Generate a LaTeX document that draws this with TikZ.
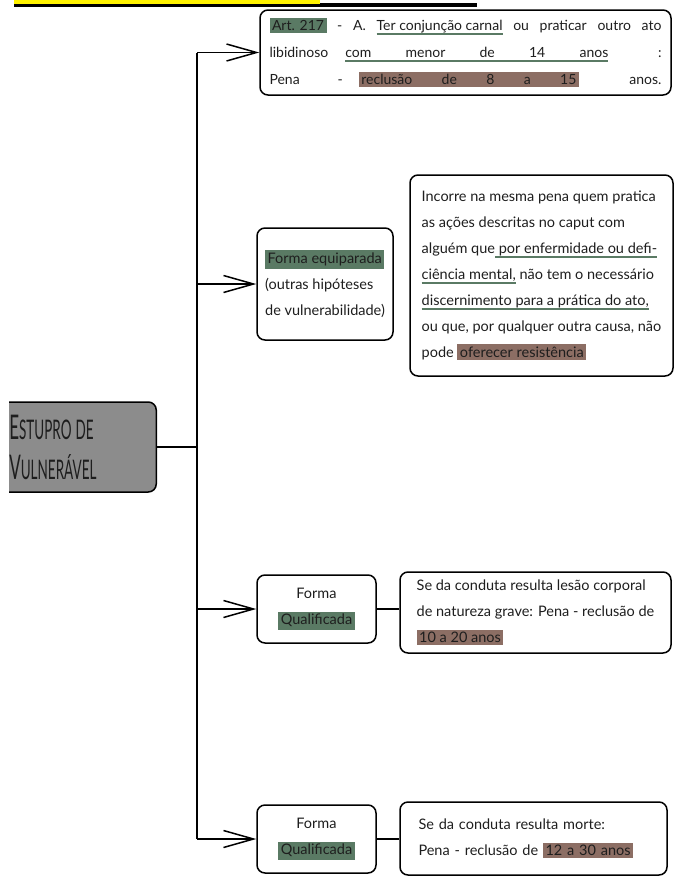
\documentclass[tikz,border=0pt]{standalone}
\usepackage{fontspec}
\setmainfont{Lato}
\usepackage{graphicx}
\usepackage{xcolor}
\usepackage{tikz}
\usetikzlibrary{arrows.meta}

\definecolor{verde}{HTML}{5A7A64}
\definecolor{marrom}{HTML}{8C6E64}
\definecolor{cinza}{HTML}{8C8C8C}
\definecolor{tinta}{HTML}{1E1E1E}
\definecolor{amarelo}{HTML}{FFF200}

\newsavebox{\caixaul}
\newcommand{\hlg}[1]{{\setlength{\fboxsep}{2.5pt}\colorbox{verde}{#1}}}
\newcommand{\hlb}[1]{{\setlength{\fboxsep}{2.5pt}\colorbox{marrom}{#1}}}
\newcommand{\ulg}[1]{\leavevmode\sbox{\caixaul}{#1}\rlap{\color{verde}\rule[-4pt]{\wd\caixaul}{1.6pt}}\usebox{\caixaul}}

\begin{document}
\begin{tikzpicture}[x=1pt, y=-1pt, text=tinta, font=\fontsize{14.5}{26}\selectfont,
	caixa/.style={draw, line width=1.5pt, rounded corners=8pt, fill=white, inner sep=0pt},
	linha/.style={line width=1.5pt},
	seta/.style={line width=1.5pt, -{Straight Barb[length=30pt, width=17pt, line width=1.5pt]}}]
	\useasboundingbox (0,0) rectangle (673,881);
	\fill[black] (14,2.5) rectangle (477,7);
	\fill[amarelo] (14,0) rectangle (320,3.5);

	\begin{scope}
		\clip (9,390) rectangle (200,500);
		\node[caixa, fill=cinza, anchor=east, minimum width=170pt, minimum height=90pt, align=left, text width=124pt, font=\fontsize{24}{40}\selectfont] (raiz) at (157,447)
			{\scalebox{0.5}[1]{\fontsize{34}{40}\selectfont E\fontsize{27}{40}\selectfont STUPRO DE}\\
			 \scalebox{0.5}[1]{\fontsize{34}{40}\selectfont V\fontsize{27}{40}\selectfont ULNERÁVEL}};
	\end{scope}

	\node[caixa, minimum width=411pt, minimum height=85pt, align=left, font=\fontsize{14}{27}\selectfont] (art) at (465.5,52.5)
		{\makebox[392pt][s]{\hlg{Art. 217} - A. \ulg{Ter conjunção carnal} ou praticar outro ato}\\
		 \makebox[392pt]{libidinoso\hspace{17pt}\ulg{\makebox[263pt][s]{com menor de 14 anos}}\hfill:}\\
		 \makebox[392pt]{Pena\hspace{38pt}-\hspace{16pt}\hlb{\makebox[215pt][s]{reclusão de 8 a 15}}\hfill anos.}};

	\node[caixa, minimum width=136pt, minimum height=112pt, align=left] (equip) at (325,284)
		{\hlg{Forma equiparada}\\(outras hipóteses\\de vulnerabilidade)};
	\node[caixa, minimum width=263pt, minimum height=201pt, align=left] (equiptxt) at (541.5,275.5)
		{Incorre na mesma pena quem pratica\\
		 as ações descritas no caput com\\
		 alguém que\ulg{ por enfermidade ou defi-}\\
		 \ulg{ciência mental,} não tem o necessário\\
		 \ulg{discernimento para a prática do ato,}\\
		 ou que, por qualquer outra causa, não\\
		 pode \hlb{oferecer resistência}};

	\node[caixa, minimum width=119pt, minimum height=68pt, align=center] (qual1) at (316.5,609)
		{Forma\\\hlg{Qualificada}};
	\node[caixa, minimum width=271pt, minimum height=81pt, align=left] (qual1txt) at (535.5,612.5)
		{Se da conduta resulta lesão corporal\\
		 de natureza grave: Pena - reclusão de\\
		 \hlb{10 a 20 anos}};

	\node[caixa, minimum width=119pt, minimum height=68pt, align=center] (qual2) at (316.5,839)
		{Forma\\\hlg{Qualificada}};
	\node[caixa, minimum width=267pt, minimum height=73pt, align=left, text width=230pt] (qual2txt) at (533.5,838.5)
		{Se da conduta resulta morte:\\
		 Pena - reclusão de \hlb{12 a 30 anos}};

	\coordinate (topo) at (197,52.5);
	\coordinate (base) at (197,839);
	\draw[linha] (topo) -- (base);
	\draw[linha] (raiz.east) -- (raiz.east -| topo);
	\draw[seta] (topo) -- (art.west);
	\draw[seta] (equip.west -| topo) -- (equip.west);
	\draw[seta] (qual1.west -| topo) -- (qual1.west);
	\draw[seta] (base) -- (qual2.west);
	\draw[linha] (qual1.east) -- (qual1.east -| qual1txt.west);
	\draw[linha] (qual2.east) -- (qual2.east -| qual2txt.west);
\end{tikzpicture}
\end{document}
